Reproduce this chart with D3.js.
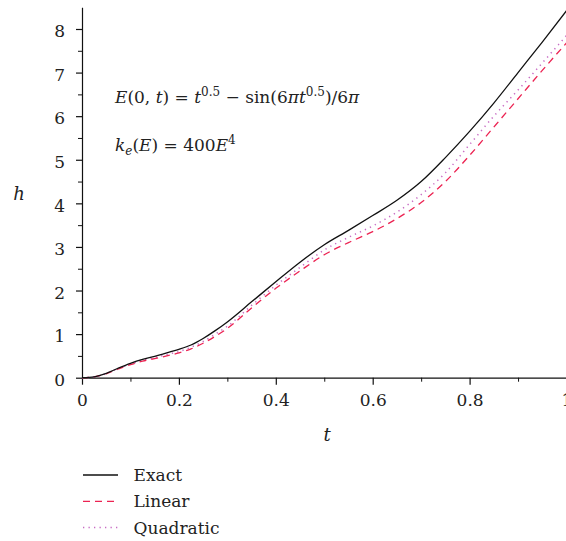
<!DOCTYPE html>
<html>
<head>
<meta charset="utf-8">
<script src="https://cdn.jsdelivr.net/npm/d3@7"></script>
<style>
  body { margin: 0; background: #fff; }
  svg { display: block; }
  svg text { font-family: "DejaVu Serif", "Liberation Serif", serif; }
</style>
</head>
<body>
<script>
// values
const tValues = [0, 0.025, 0.05, 0.075, 0.1, 0.125, 0.15, 0.175, 0.2, 0.225, 0.25, 0.275, 0.3,
  0.35, 0.4, 0.45, 0.5, 0.55, 0.6, 0.65, 0.7, 0.75, 0.8, 0.85, 0.9, 0.95, 1.0];
const exactH = [0, 0.02, 0.1, 0.22, 0.33, 0.42, 0.49, 0.57, 0.65, 0.75, 0.9, 1.08, 1.28,
  1.74, 2.2, 2.65, 3.05, 3.38, 3.72, 4.07, 4.5, 5.05, 5.65, 6.3, 7.0, 7.7, 8.42];
const linearH = [0, 0.02, 0.09, 0.2, 0.3, 0.38, 0.44, 0.5, 0.57, 0.66, 0.79, 0.95, 1.13,
  1.6, 2.05, 2.45, 2.82, 3.1, 3.35, 3.65, 4.02, 4.5, 5.1, 5.75, 6.4, 7.05, 7.68];
const quadraticH = [0, 0.02, 0.095, 0.21, 0.31, 0.4, 0.46, 0.53, 0.6, 0.7, 0.83, 1.0, 1.18,
  1.66, 2.12, 2.53, 2.93, 3.22, 3.48, 3.8, 4.2, 4.7, 5.35, 6.0, 6.6, 7.22, 7.85];
const seriesNames = ["Exact", "Linear", "Quadratic"];
const xTicks = [0, 0.2, 0.4, 0.6, 0.8, 1];
const yTicks = [0, 1, 2, 3, 4, 5, 6, 7, 8];

const W = 566, H = 541;
const FONT = "DejaVu Serif";
const styles = {
  Exact: { color: "#111", dash: null, width: 1.3 },
  Linear: { color: "#ec2352", dash: "7,5", width: 1.3 },
  Quadratic: { color: "#c86cc4", dash: "1.3,4.2", width: 1.5 }
};

const svg = d3.select("body").append("svg").attr("width", W).attr("height", H);

const x = d3.scaleLinear().domain([0, 1]).range([82, 566.5]);
const y = d3.scaleLinear().domain([0, 8.5]).range([377.7, 7.2]);

// minor ticks first, then major axes
svg.append("g")
  .attr("transform", "translate(0,377.7)")
  .call(d3.axisBottom(x).tickValues(d3.range(0.1, 1, 0.2)).tickSize(4).tickFormat(""))
  .call(g => g.select(".domain").remove());
svg.append("g")
  .attr("transform", "translate(82,0)")
  .call(d3.axisLeft(y).tickValues(d3.range(0.5, 8.5, 1)).tickSize(4).tickFormat(""))
  .call(g => g.select(".domain").remove());

const xAxis = svg.append("g")
  .attr("transform", "translate(0,377.7)")
  .call(d3.axisBottom(x).tickValues(xTicks).tickSize(7).tickSizeOuter(0).tickPadding(9)
    .tickFormat(d => d === 0 || d === 1 ? d : d.toFixed(1)));
const yAxis = svg.append("g")
  .attr("transform", "translate(82,0)")
  .call(d3.axisLeft(y).tickValues(yTicks).tickSize(6).tickSizeOuter(0).tickPadding(11));

[xAxis, yAxis].forEach(g => {
  g.attr("font-family", FONT);
  g.selectAll("text").attr("font-size", 17).attr("fill", "#222");
  g.selectAll("line, path").attr("stroke", "#111").attr("stroke-width", 1.2);
});
yAxis.selectAll("text").attr("dy", "0.45em");
svg.selectAll("g.tick line").attr("stroke", "#111");

// curves
const data = {
  Exact: tValues.map((t, i) => [t, exactH[i]]),
  Linear: tValues.map((t, i) => [t, linearH[i]]),
  Quadratic: tValues.map((t, i) => [t, quadraticH[i]])
};
const line = d3.line().x(d => x(d[0])).y(d => y(d[1])).curve(d3.curveMonotoneX);

["Quadratic", "Linear", "Exact"].forEach(name => {
  svg.append("path")
    .datum(data[name])
    .attr("fill", "none")
    .attr("stroke", styles[name].color)
    .attr("stroke-width", styles[name].width)
    .attr("stroke-dasharray", styles[name].dash)
    .attr("d", line);
});

// axis titles
svg.append("text").attr("x", 19).attr("y", 200).attr("text-anchor", "middle")
  .attr("font-size", 18).attr("font-style", "italic").attr("fill", "#222").text("h");
svg.append("text").attr("x", 327).attr("y", 441).attr("text-anchor", "middle")
  .attr("font-size", 18).attr("font-style", "italic").attr("fill", "#222").text("t");

// annotations
const eq1 = svg.append("text").attr("x", 115).attr("y", 103).attr("font-size", 17).attr("fill", "#222");
const parts1 = [
  ["E", "i"], ["(0, ", ""], ["t", "i"], [") = ", ""], ["t", "i"], ["0.5", "sup"],
  [" \u2212 sin(6", ""], ["\u03c0t", "i"], ["0.5", "sup"], [")/6", ""], ["\u03c0", "i"]
];
const eq2 = svg.append("text").attr("x", 115).attr("y", 151).attr("font-size", 17).attr("fill", "#222");
const parts2 = [
  ["k", "i"], ["e", "sub"], ["(", ""], ["E", "i"], [") = 400", ""], ["E", "i"], ["4", "sup"]
];
function writeParts(el, parts) {
  parts.forEach(([txt, kind], i) => {
    const ts = el.append("tspan").text(txt);
    const prev = i > 0 ? parts[i - 1][1] : "";
    if (kind === "i") ts.attr("font-style", "italic");
    if (kind === "sup") ts.attr("font-size", 12).attr("dy", -7);
    if (kind === "sub") ts.attr("font-size", 12).attr("font-style", "italic").attr("dy", 4);
    // back to the baseline after a shifted piece
    if (prev === "sup" && kind !== "sup") ts.attr("dy", 7);
    if (prev === "sub" && kind !== "sub") ts.attr("dy", -4);
  });
}
writeParts(eq1, parts1);
writeParts(eq2, parts2);

// legend
const legend = svg.append("g");
seriesNames.forEach((name, i) => {
  const ly = 475 + i * 26.3;
  legend.append("line")
    .attr("x1", 83).attr("x2", 118).attr("y1", ly).attr("y2", ly)
    .attr("stroke", styles[name].color)
    .attr("stroke-width", styles[name].width)
    .attr("stroke-dasharray", styles[name].dash);
  legend.append("text").attr("x", 133.5).attr("y", ly + 6)
    .attr("font-size", 17).attr("fill", "#222").text(name);
});
</script>
</body>
</html>
